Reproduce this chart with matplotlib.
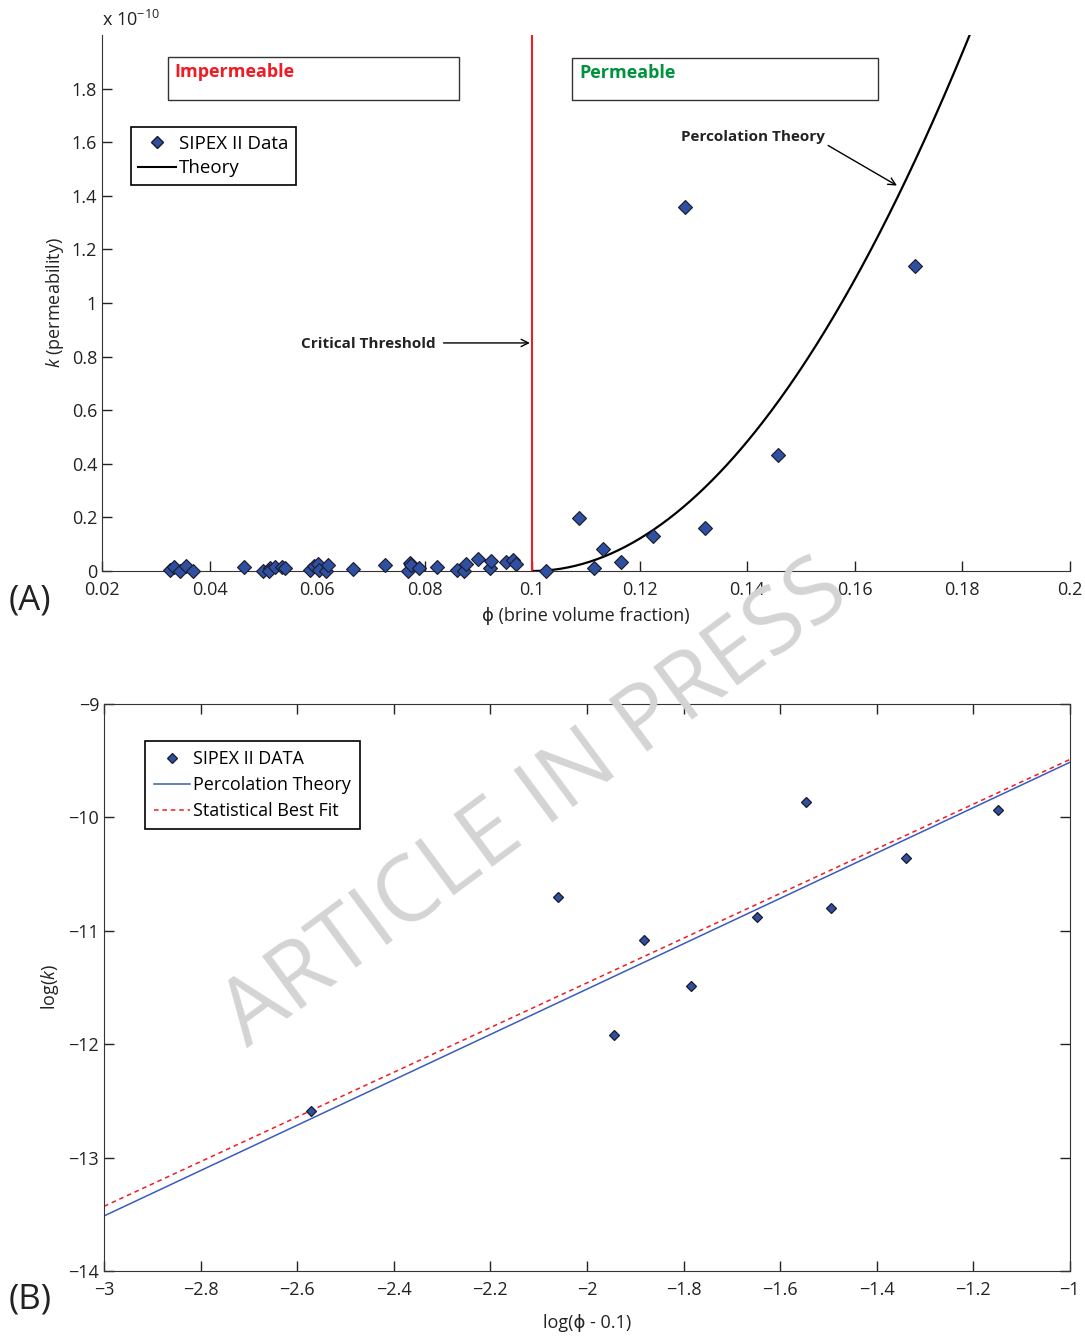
import numpy as np
import matplotlib
matplotlib.use('Agg')
import matplotlib.pyplot as plt
from matplotlib.patches import Rectangle

plt.rcParams['font.family'] = ['Open Sans', 'DejaVu Sans']
plt.rcParams['font.size'] = 13
plt.rcParams['mathtext.fontset'] = 'custom'
plt.rcParams['mathtext.rm'] = 'Open Sans'
plt.rcParams['mathtext.it'] = 'Open Sans:italic'

# ---- panel A : brine volume fraction vs permeability (units of 1e-10) ----
phi_data = [0.0326, 0.0333, 0.0345, 0.0356, 0.0369, 0.0464, 0.0500, 0.0512, 0.0510,
            0.0522, 0.0534, 0.0540, 0.0586, 0.0595, 0.0602, 0.0603, 0.0617, 0.0621,
            0.0667, 0.0726, 0.0769, 0.0773, 0.0775, 0.0789, 0.0823, 0.0861, 0.0874,
            0.0877, 0.0899, 0.0921, 0.0923, 0.0952, 0.0964, 0.0970,
            0.1025, 0.1087, 0.1115, 0.1131, 0.1165, 0.1224, 0.1284, 0.1321, 0.1458, 0.1713]
k_data = [0.004, 0.016, 0.000, 0.019, 0.000, 0.015, 0.000, 0.012, 0.001,
          0.016, 0.016, 0.012, 0.004, 0.019, 0.025, 0.002, 0.000, 0.022,
          0.007, 0.021, 0.000, 0.029, 0.022, 0.010, 0.016, 0.004, 0.001,
          0.026, 0.044, 0.012, 0.039, 0.032, 0.041, 0.025,
          0.000, 0.198, 0.011, 0.082, 0.034, 0.130, 1.358, 0.160, 0.433, 1.138]

phi_c = 0.1          # critical threshold
theory_coef = 302.0  # k = coef * (phi - phi_c)^2, in 1e-10 units

# ---- panel B : log-log ----
logphi_data = [-2.571, -2.059, -1.943, -1.881, -1.785, -1.648, -1.547, -1.495, -1.339, -1.148]
logk_data = [-12.59, -10.70, -11.92, -11.08, -11.49, -10.88, -9.864, -10.80, -10.36, -9.937]
theory_slope, theory_icpt = 2.0, -7.515
fit_slope, fit_icpt = 1.97, -7.52

fig = plt.figure(figsize=(10.85, 13.36), dpi=100)

# ================= (A) =================
ax1 = fig.add_axes([0.094, 0.5726, 0.892, 0.4012])
phi_line = np.linspace(phi_c, 0.2, 300)
ax1.plot(phi_line, theory_coef * (phi_line - phi_c) ** 2, color='black', lw=1.6, zorder=2)
ax1.plot([phi_c, phi_c], [0, 2.0], color='#ee1c24', lw=1.5, zorder=2)
ax1.plot(phi_data, k_data, linestyle='none', marker='D', markersize=7.5,
         markerfacecolor='#2f4fa0', markeredgecolor='#1a1a2a', markeredgewidth=0.8,
         clip_on=False, zorder=3)
ax1.set_xlim(0.02, 0.2)
ax1.set_ylim(0, 2.0)
ax1.set_xticks(np.arange(0.02, 0.201, 0.02))
ax1.set_xticklabels(['0.02', '0.04', '0.06', '0.08', '0.1', '0.12', '0.14', '0.16', '0.18', '0.2'])
ax1.set_yticks(np.arange(0, 1.81, 0.2))
ax1.set_yticklabels(['0', '0.2', '0.4', '0.6', '0.8', '1', '1.2', '1.4', '1.6', '1.8'])
ax1.spines['top'].set_visible(False)
ax1.spines['right'].set_visible(False)
for s in ['left', 'bottom']:
    ax1.spines[s].set_color('#333333')
ax1.tick_params(direction='in', length=7, width=1, colors='#222222', labelsize=13)
ax1.tick_params(axis='x', pad=7)
ax1.set_xlabel('ϕ (brine volume fraction)', fontsize=13, color='#222222', labelpad=6)
ax1.set_ylabel('$k$ (permeability)', fontsize=13, color='#222222', labelpad=4)
ax1.text(0.0, 1.01, 'x 10$^{-10}$', transform=ax1.transAxes, fontsize=13,
         ha='left', va='bottom', color='#222222')

ax1.plot([], [], linestyle='none', marker='D', markersize=6, markerfacecolor='#2f4fa0',
         markeredgecolor='#1a1a2a', label='SIPEX II Data')
ax1.plot([], [], color='black', lw=1.5, label='Theory')
leg1 = ax1.legend(loc='upper left', bbox_to_anchor=(0.1207, 0.9049),
                  bbox_transform=fig.transFigure, fancybox=False, framealpha=1,
                  edgecolor='black', fontsize=13.5, handlelength=2.0, handletextpad=0.15,
                  borderpad=0.4, labelspacing=0.35, borderaxespad=0)
leg1.get_frame().set_linewidth(1.2)

ax1.annotate('', xy=(0.1001, 0.851), xytext=(0.0830, 0.851),
             arrowprops=dict(arrowstyle='->', color='black', lw=1))
ax1.text(0.0821, 0.847, 'Critical Threshold', ha='right', va='center',
         fontsize=11, fontweight='bold', color='#222222')
ax1.annotate('', xy=(0.1683, 1.433), xytext=(0.1546, 1.593),
             arrowprops=dict(arrowstyle='->', color='black', lw=1))
ax1.text(0.1544, 1.619, 'Percolation Theory', ha='right', va='center',
         fontsize=11, fontweight='bold', color='#222222')

fig.add_artist(Rectangle((0.1548, 0.9251), 0.2682, 0.0322, transform=fig.transFigure,
                         fill=False, edgecolor='#333333', lw=1))
fig.text(0.1604, 0.9461, 'Impermeable', color='#ee1c24', fontsize=13,
         fontweight='bold', ha='left', va='center')
fig.add_artist(Rectangle((0.5272, 0.9251), 0.2820, 0.0314, transform=fig.transFigure,
                         fill=False, edgecolor='#333333', lw=1))
fig.text(0.5336, 0.9454, 'Permeable', color='#00923f', fontsize=13,
         fontweight='bold', ha='left', va='center')

fig.text(0.008, 0.5505, '(A)', fontsize=25, color='#222222', ha='left', va='center')

# ================= (B) =================
ax2 = fig.add_axes([0.0959, 0.0487, 0.8901, 0.4244])
xl = np.array([-3, -1])
ax2.plot(xl, theory_slope * xl + theory_icpt, color='#3a5bbf', lw=1.1,
         label='Percolation Theory', zorder=2)
ax2.plot(xl, fit_slope * xl + fit_icpt, color='#ee1c24', lw=1.1, linestyle=(0, (3, 2.5)),
         label='Statistical Best Fit', zorder=2)
ax2.plot(logphi_data, logk_data, linestyle='none', marker='D', markersize=5.5,
         markerfacecolor='#2f4fa0', markeredgecolor='#1a1a2a', markeredgewidth=0.9,
         label='SIPEX II DATA', zorder=3)
ax2.set_xlim(-3, -1)
ax2.set_ylim(-14, -9)
ax2.set_xticks(np.arange(-3, -0.99, 0.2))
ax2.set_xticklabels(['\u22123', '\u22122.8', '\u22122.6', '\u22122.4', '\u22122.2', '\u22122',
                     '\u22121.8', '\u22121.6', '\u22121.4', '\u22121.2', '\u22121'])
ax2.set_yticks([-14, -13, -12, -11, -10, -9])
ax2.set_yticklabels(['\u221214', '\u221213', '\u221212', '\u221211', '\u221210', '\u22129'])
for s in ax2.spines.values():
    s.set_color('#333333')
ax2.tick_params(direction='in', length=7, width=1, top=True, right=True,
                colors='#222222', labelsize=13)
ax2.tick_params(axis='x', pad=7)
ax2.set_xlabel('log(ϕ - 0.1)', fontsize=13, color='#222222', labelpad=11)
ax2.set_ylabel('log($k$)', fontsize=13, color='#222222', labelpad=5)
h, l = ax2.get_legend_handles_labels()
leg2 = ax2.legend([h[2], h[0], h[1]], [l[2], l[0], l[1]], loc='upper left',
                  bbox_to_anchor=(0.1336, 0.4454), bbox_transform=fig.transFigure,
                  fancybox=False, framealpha=1, edgecolor='black', fontsize=13,
                  handlelength=2.0, handletextpad=0.15, borderpad=0.5,
                  labelspacing=0.45, borderaxespad=0)
leg2.get_frame().set_linewidth(1.2)

fig.text(0.008, 0.027, '(B)', fontsize=25, color='#222222', ha='left', va='center')

# watermark
fig.text(0.494, 0.397, 'ARTICLE IN PRESS', fontsize=66, color='#d4d4d4',
         rotation=36.5, ha='center', va='center', zorder=10)

fig.savefig('out.png', dpi=100)
